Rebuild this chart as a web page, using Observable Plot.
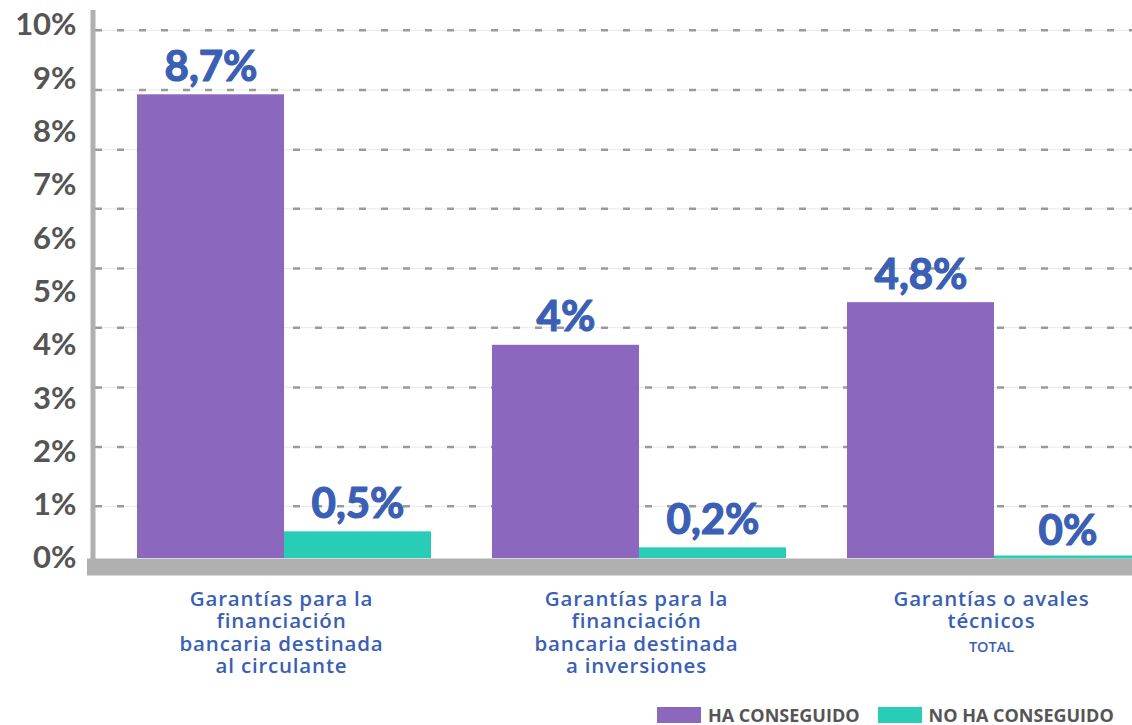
<!DOCTYPE html>
<html>
<head>
<meta charset="utf-8">
<script src="https://cdn.jsdelivr.net/npm/d3@7"></script>
<script src="https://cdn.jsdelivr.net/npm/@observablehq/plot@0.6"></script>
<style>
  html, body { margin: 0; padding: 0; background: #fff; overflow: hidden; }
  #wrap { position: relative; width: 1132px; height: 725px; }
  #wrap svg { overflow: hidden; display: block; }
  #legend { position: absolute; top: 705px; left: 657px; display: flex; align-items: center;
            font-family: "Open Sans", sans-serif; font-weight: bold; font-size: 18px; color: #555; line-height: 20px; }
  .sw { width: 44px; height: 16px; display: inline-block; margin-right: 7px; }
  .item { display: flex; align-items: center; margin-right: 18px; }
</style>
</head>
<body>
<div id="wrap"></div>
<script>
const categories = [
  "Garantías para la\nfinanciación\nbancaria destinada\nal circulante",
  "Garantías para la\nfinanciación\nbancaria destinada\na inversiones",
  "Garantías o avales\ntécnicos"
];
const subLabels = ["", "", "TOTAL"];
const series = ["HA CONSEGUIDO", "NO HA CONSEGUIDO"];
const haValues = [8.7, 4, 4.8];
const noValues = [0.5, 0.2, 0];
const yTicks = [0, 1, 2, 3, 4, 5, 6, 7, 8, 9, 10];
const gridValues = [0.98, 2.09, 3.21, 4.33, 5.44, 6.56, 7.67, 8.79, 9.91];

const purple = "#8b68be";
const teal = "#29cdb5";
const blue = "#3a5fb4";
const axisGray = "#b0b0b0";
const fmt = v => String(v).replace(".", ",") + "%";

const chart = Plot.plot({
  width: 1132,
  height: 700,
  marginTop: 25,
  marginBottom: 142,
  marginLeft: 95,
  marginRight: 0,
  style: { fontFamily: "Lato, sans-serif", background: "#fff" },
  x: { domain: categories, range: [95, 1183], paddingInner: 0.172, paddingOuter: 0.118, axis: null },
  y: { domain: [0, 10], axis: null },
  marks: [
    Plot.ruleY(gridValues, { stroke: "#e8e8e8", strokeWidth: 1 }),
    Plot.ruleY(gridValues, { stroke: "#9a9a9a", strokeWidth: 2.5, strokeDasharray: "7,15" }),
    Plot.barY(categories, { x: d => d, y: (d, i) => haValues[i], fill: purple, insetRight: 147 }),
    Plot.barY(categories, { x: d => d, y: (d, i) => noValues[i], fill: teal, insetLeft: 147 }),
    Plot.tickY(categories.filter((d, i) => noValues[i] === 0), { x: d => d, y: 0, stroke: teal, strokeWidth: 3, dy: -1.5, insetLeft: 147 }),
    Plot.frame({ anchor: "left", stroke: axisGray, strokeWidth: 5, dx: -2.5, insetTop: -13, insetBottom: -2 }),
    Plot.frame({ anchor: "bottom", stroke: axisGray, strokeWidth: 17, dy: 8.5 }),
    Plot.axisY({ ticks: yTicks, tickFormat: d => d + "%", tickSize: 0, tickPadding: 19, fontSize: 31, fontWeight: "bold", fill: "#555", stroke: "#555", strokeWidth: 0.9, label: null }),
    Plot.text(categories, { x: d => d, y: (d, i) => haValues[i], text: (d, i) => fmt(haValues[i]), dx: -73.5, dy: -14, lineAnchor: "bottom", fontSize: 42, fontWeight: "bold", fill: blue, stroke: blue, strokeWidth: 1.2 }),
    Plot.text(categories, { x: d => d, y: (d, i) => noValues[i], text: (d, i) => fmt(noValues[i]), dx: 73.5, dy: -14, lineAnchor: "bottom", fontSize: 42, fontWeight: "bold", fill: blue, stroke: blue, strokeWidth: 1.2 }),
    Plot.text(categories, { x: d => d, text: d => d, frameAnchor: "bottom", lineAnchor: "top", dx: -3, dy: 31, fontSize: 20.5, lineHeight: 1.1, fontFamily: "Open Sans", fontWeight: 600, fill: blue }),
    Plot.text(categories, { x: d => d, text: (d, i) => subLabels[i], frameAnchor: "bottom", lineAnchor: "middle", dx: -3, dy: 89, fontSize: 14.5, fontFamily: "Open Sans", fontWeight: 600, fill: blue })
  ]
});
const textGroups = d3.select(chart).selectAll('g[aria-label="text"]').nodes();
if (textGroups.length >= 3) d3.select(textGroups[2]).attr("letter-spacing", "0.8px");
document.getElementById("wrap").appendChild(chart);

const legend = document.createElement("div");
legend.id = "legend";
const colors = [purple, teal];
series.forEach((s, i) => {
  const item = document.createElement("div");
  item.className = "item";
  const sw = document.createElement("span");
  sw.className = "sw";
  sw.style.background = colors[i];
  item.appendChild(sw);
  item.appendChild(document.createTextNode(s));
  legend.appendChild(item);
});
document.getElementById("wrap").appendChild(legend);
</script>
</body>
</html>
